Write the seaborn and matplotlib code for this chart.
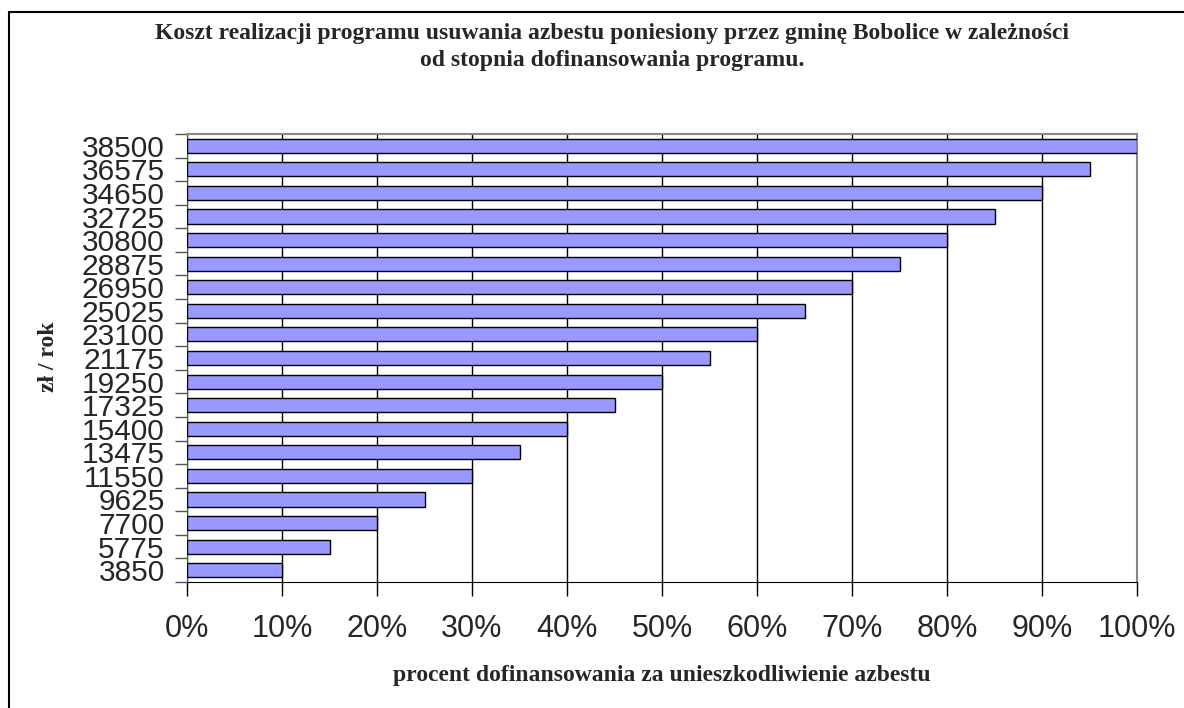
import matplotlib
matplotlib.use("Agg")
import matplotlib.pyplot as plt
from matplotlib.ticker import PercentFormatter, MultipleLocator, FixedLocator
from matplotlib.lines import Line2D
import seaborn as sns
import pandas as pd

# data (top bar first)
koszt = ["38500", "36575", "34650", "32725", "30800", "28875", "26950",
         "25025", "23100", "21175", "19250", "17325", "15400", "13475",
         "11550", "9625", "7700", "5775", "3850"]
procent = [100, 95, 90, 85, 80, 75, 70, 65, 60, 55, 50, 45, 40, 35,
           30, 25, 20, 15, 10]

title = ("Koszt realizacji programu usuwania azbestu poniesiony przez gminę Bobolice w zależności\n"
         "od stopnia dofinansowania programu.")
xlabel = "procent dofinansowania za unieszkodliwienie azbestu"
ylabel = "zł / rok"

df = pd.DataFrame({"koszt": koszt, "procent": procent})

sns.set_style("white")
serif = "Liberation Serif"
sans = "Liberation Sans"
plt.rcParams["font.family"] = [sans, "DejaVu Sans"]

fig = plt.figure(figsize=(11.84, 7.08), dpi=100)
ax = fig.add_axes([187 / 1184, 1 - 582 / 708, 950 / 1184, 448 / 708])

sns.barplot(data=df, x="procent", y="koszt", order=koszt, orient="h",
            color="#9999FF", saturation=1, edgecolor="black", linewidth=1,
            width=0.6, ax=ax, zorder=3)

ax.set_xlim(0, 100)
ax.set_ylim(len(koszt) - 0.5, -0.5)
ax.xaxis.set_major_locator(MultipleLocator(10))
ax.xaxis.set_major_formatter(PercentFormatter(100, decimals=0))
ax.grid(axis="x", color="black", linewidth=1, zorder=0)
ax.grid(axis="y", visible=False)

# category ticks sit between bars, labels at bar centres
ax.yaxis.set_minor_locator(FixedLocator([i - 0.5 for i in range(len(koszt) + 1)]))
ax.tick_params(axis="y", which="major", length=0, labelsize=21.5, pad=16)
ax.tick_params(axis="y", which="minor", length=9, width=1, color="#555555", left=True)
ax.tick_params(axis="x", which="major", length=10, width=1, color="black",
               labelsize=22, pad=13, bottom=True)

for s in ["top", "right"]:
    ax.spines[s].set_color("#888888")
    ax.spines[s].set_linewidth(1.5)
ax.spines["left"].set_color("#555555")
ax.spines["bottom"].set_color("black")
for s in ax.spines.values():
    s.set_visible(True)

ax.set_xlabel("")
ax.set_ylabel("")

fig.text(662 / 1184, 1 - 675 / 708, xlabel, family=serif, weight="bold",
         fontsize=17, ha="center", va="center")
fig.text(48 / 1184, 1 - 357 / 708, ylabel, family=serif, weight="bold",
         fontsize=17, ha="center", va="center", rotation=90)
fig.text(612 / 1184, 1 - 47 / 708, title, family=serif, weight="bold",
         fontsize=17, ha="center", va="center", linespacing=1.4)

# outer chart frame: only left and top edges are inside the picture
x0 = 8.5 / 1184
y0 = 1 - 11.5 / 708
fig.add_artist(Line2D([x0, x0], [0, y0], transform=fig.transFigure,
                      color="black", linewidth=1.5))
fig.add_artist(Line2D([x0, 1], [y0, y0], transform=fig.transFigure,
                      color="black", linewidth=1.5))

fig.savefig("out.png", dpi=100)
